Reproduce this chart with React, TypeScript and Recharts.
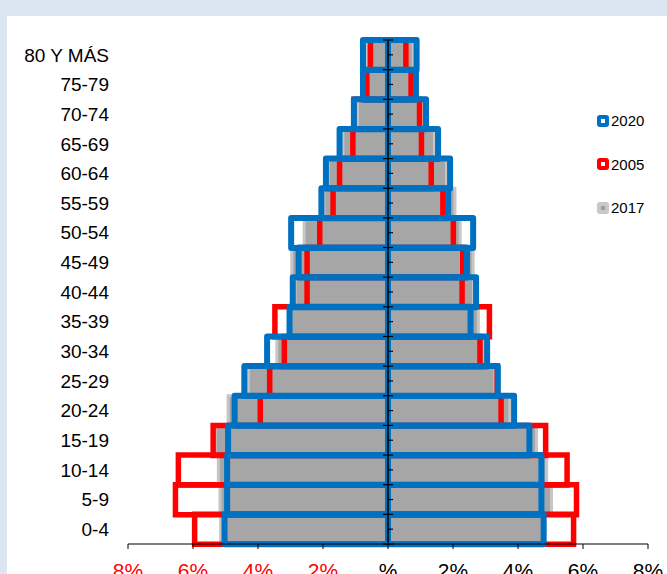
import { Bar, BarChart, Legend, ReferenceLine, XAxis, YAxis } from "recharts";

const AGE_GROUPS = [
  "80 Y MÁS", "75-79", "70-74", "65-69", "60-64", "55-59", "50-54", "45-49", "40-44",
  "35-39", "30-34", "25-29", "20-24", "15-19", "10-14", "5-9", "0-4",
];

// men (left side) and women (right side), % of total population
const MALE_2020 = [0.77, 0.77, 1.05, 1.49, 1.91, 2.05, 2.98, 2.75, 2.93, 3.03, 3.72, 4.42, 4.72, 4.92, 4.95, 4.95, 5.03];
const FEMALE_2020 = [0.88, 0.86, 1.17, 1.54, 1.91, 1.85, 2.62, 2.43, 2.71, 2.54, 3.05, 3.38, 3.88, 4.35, 4.72, 4.72, 4.79];
const MALE_2005 = [0.54, 0.65, 1.05, 1.08, 1.49, 1.69, 2.1, 2.49, 2.49, 3.48, 3.19, 3.64, 3.93, 5.38, 6.45, 6.54, 5.95];
const FEMALE_2005 = [0.55, 0.71, 0.97, 1.03, 1.33, 1.69, 2.01, 2.3, 2.28, 3.12, 2.83, 3.36, 3.48, 4.85, 5.51, 5.8, 5.71];
const MALE_2017 = [0.68, 0.62, 0.94, 1.39, 1.84, 1.97, 2.58, 2.96, 2.86, 3.0, 3.42, 4.3, 4.92, 5.32, 5.22, 5.17, 5.15];
const FEMALE_2017 = [0.78, 0.77, 1.07, 1.43, 1.8, 2.06, 2.22, 2.62, 2.63, 2.78, 2.98, 3.29, 3.75, 4.57, 4.88, 5.03, 4.8];

const X_TICKS = [-8, -6, -4, -2, 0, 2, 4, 6, 8];

const data = AGE_GROUPS.map((age, i) => ({
  age,
  m2017: -MALE_2017[i],
  f2017: FEMALE_2017[i],
  m2005: -MALE_2005[i],
  f2005: FEMALE_2005[i],
  m2020: -MALE_2020[i],
  f2020: FEMALE_2020[i],
}));

const FONT = "'Liberation Sans', Arial, sans-serif";

const LEGEND_ITEMS = [
  { year: "2020", color: "#0070c0", inner: "#ffffff" },
  { year: "2005", color: "#ff0000", inner: "#ffffff" },
  { year: "2017", color: "#c8c8c8", inner: "#9c9c9c" },
];

function PctTick({ x, y, payload }: any) {
  const v = payload.value as number;
  return (
    <text
      x={x}
      y={y}
      dy="0.71em"
      textAnchor="middle"
      fill={v < 0 ? "#ff0000" : "#000000"}
      fontSize={21}
      fontFamily={FONT}
    >
      {v === 0 ? "%" : `${Math.abs(v)}%`}
    </text>
  );
}

function AgeTick({ x, y, payload }: any) {
  return (
    <text x={x} y={y} dy="0.355em" textAnchor="end" fill="#000" fontSize={19} fontFamily={FONT}>
      {payload.value}
    </text>
  );
}

// the zero line works as the category axis: ticks between groups, minor ones at the centres
function CenterAxis(props: any) {
  const { x1, y1, y2 } = props;
  const top = Math.min(y1, y2);
  const bottom = Math.max(y1, y2);
  const step = (bottom - top) / AGE_GROUPS.length;
  const marks = [];
  for (let i = 0; i <= AGE_GROUPS.length; i++) {
    const y = top + i * step;
    marks.push(<line key={`M${i}`} x1={x1 - 5} x2={x1 + 5} y1={y} y2={y} stroke="#000" strokeWidth={1.2} />);
    if (i < AGE_GROUPS.length) {
      const yc = y + step / 2;
      marks.push(<line key={`m${i}`} x1={x1} x2={x1 + 5} y1={yc} y2={yc} stroke="#000" strokeWidth={1.2} />);
    }
  }
  return (
    <g>
      <line x1={x1} x2={x1} y1={top} y2={bottom} stroke="#000" strokeWidth={1.5} />
      {marks}
    </g>
  );
}

function LegendBox() {
  return (
    <div style={{ fontFamily: FONT, fontSize: 15, color: "#000" }}>
      {LEGEND_ITEMS.map((item) => (
        <div key={item.year} style={{ display: "flex", alignItems: "center", height: 43.5 }}>
          <span
            style={{
              width: 12,
              height: 12,
              borderRadius: 3,
              background: item.color,
              display: "flex",
              alignItems: "center",
              justifyContent: "center",
            }}
          >
            <span style={{ width: 4, height: 4, background: item.inner }} />
          </span>
          <span style={{ marginLeft: 2 }}>{item.year}</span>
        </div>
      ))}
    </div>
  );
}

export default function App() {
  return (
    <div
      style={{
        position: "absolute",
        left: 0,
        top: 0,
        width: 667,
        height: 574,
        background: "#dce6f2",
        overflow: "hidden",
      }}
    >
      <div
        style={{
          position: "absolute",
          left: 7,
          top: 16,
          width: 660,
          height: 558,
          background: "#ffffff",
          overflow: "hidden",
        }}
      >
        <BarChart
          width={660}
          height={568}
          data={data}
          layout="vertical"
          stackOffset="sign"
          barCategoryGap={0}
          barGap={0}
          margin={{ top: 24, right: 19, bottom: 10, left: 0 }}
        >
          <XAxis
            type="number"
            domain={[-8, 8]}
            ticks={X_TICKS}
            axisLine={{ stroke: "#000" }}
            tickLine={{ stroke: "#000" }}
            tickSize={5}
            tickMargin={14}
            height={30}
            tick={<PctTick />}
          />
          <YAxis
            yAxisId="y2020"
            type="category"
            dataKey="age"
            width={121}
            axisLine={false}
            tickLine={false}
            tickSize={6}
            tickMargin={13}
            interval={0}
            tick={<AgeTick />}
          />
          <YAxis yAxisId="y2005" type="category" dataKey="age" width={0} hide />
          <YAxis yAxisId="y2017" type="category" dataKey="age" width={0} hide />

          <Bar dataKey="m2017" yAxisId="y2017" stackId="s2017" fill="#a6a6a6" stroke="#c6c6c6" strokeWidth={3} isAnimationActive={false} />
          <Bar dataKey="f2017" yAxisId="y2017" stackId="s2017" fill="#a6a6a6" stroke="#c6c6c6" strokeWidth={3} isAnimationActive={false} />

          <Bar dataKey="m2005" yAxisId="y2005" stackId="s2005" fill="none" stroke="#ff0000" strokeWidth={5.5} isAnimationActive={false} />
          <Bar dataKey="f2005" yAxisId="y2005" stackId="s2005" fill="none" stroke="#ff0000" strokeWidth={5.5} isAnimationActive={false} />

          <Bar dataKey="m2020" yAxisId="y2020" stackId="s2020" fill="none" stroke="#0070c0" strokeWidth={6} strokeLinejoin="round" isAnimationActive={false} />
          <Bar dataKey="f2020" yAxisId="y2020" stackId="s2020" fill="none" stroke="#0070c0" strokeWidth={6} strokeLinejoin="round" isAnimationActive={false} />

          <ReferenceLine x={0} yAxisId="y2020" shape={CenterAxis} />

          <Legend
            layout="vertical"
            align="center"
            verticalAlign="middle"
            content={<LegendBox />}
            wrapperStyle={{ position: "absolute", left: 590, top: 83, width: 60 }}
          />
        </BarChart>
      </div>
    </div>
  );
}
